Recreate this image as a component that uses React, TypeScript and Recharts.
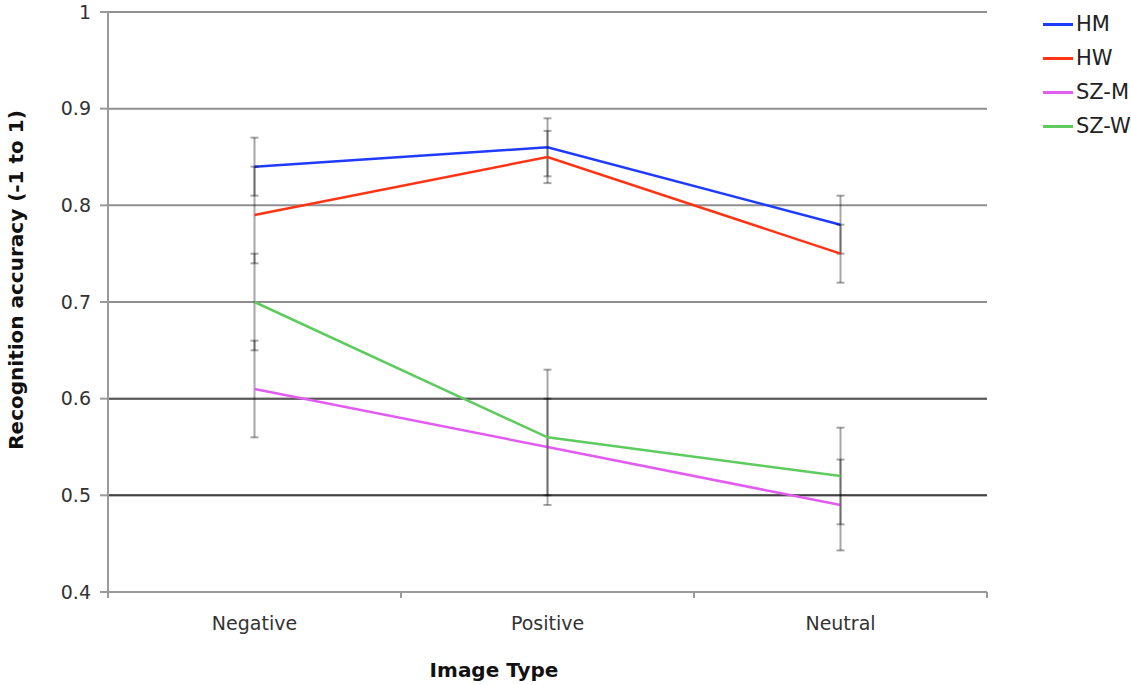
import React from 'react';
import { LineChart, Line, XAxis, YAxis, CartesianGrid, ErrorBar, ReferenceLine } from 'recharts';

const categories = ['Negative', 'Positive', 'Neutral'];
const hm = [0.84, 0.86, 0.78];
const hmErr = [0.03, 0.03, 0.03];
const hw = [0.79, 0.85, 0.75];
const hwErr = [0.05, 0.027, 0.03];
const szm = [0.61, 0.55, 0.49];
const szmErr = [0.05, 0.05, 0.047];
const szw = [0.7, 0.56, 0.52];
const szwErr = [0.05, 0.07, 0.05];
const yTicks = [0.4, 0.5, 0.6, 0.7, 0.8, 0.9, 1];
// category boundaries get tick marks, category centres get labels
const xTicks = [0, 0.5, 1, 1.5, 2, 2.5, 3];

const SERIES = [
  { key: 'hm', name: 'HM', color: '#1f3bff' },
  { key: 'hw', name: 'HW', color: '#ff3414' },
  { key: 'szm', name: 'SZ-M', color: '#e35cf2' },
  { key: 'szw', name: 'SZ-W', color: '#5ecb5e' },
];

const data = categories.map((name, i) => ({
  x: i + 0.5,
  name,
  hm: hm[i], hmErr: hmErr[i],
  hw: hw[i], hwErr: hwErr[i],
  szm: szm[i], szmErr: szmErr[i],
  szw: szw[i], szwErr: szwErr[i],
}));

const FONT = '"DejaVu Sans", Verdana, sans-serif';
const AXIS = '#9a9a9a';
const X_TICK_SIZE = 6;
const X_TICK_MARGIN = 19;

const titleStyle: React.CSSProperties = {
  position: 'absolute',
  fontFamily: FONT,
  fontSize: 20,
  fontWeight: 'bold',
  color: '#111',
  whiteSpace: 'nowrap',
  lineHeight: 1,
};

const XTick = (props: any) => {
  const { x, y, payload } = props;
  const v = payload.value as number;
  if (Number.isInteger(v)) {
    const top = y - X_TICK_SIZE - X_TICK_MARGIN;
    return <line x1={x} x2={x} y1={top} y2={top + X_TICK_SIZE} stroke={AXIS} strokeWidth={2} />;
  }
  return (
    <text x={x} y={y} dy="0.71em" textAnchor="middle" fill="#333" fontSize={19} fontFamily={FONT}>
      {categories[Math.floor(v)]}
    </text>
  );
};

export default function App() {
  return (
    <div style={{ position: 'absolute', left: 0, top: 0, width: 1131, height: 685, background: '#fff' }}>
      <LineChart width={1131} height={685} data={data} margin={{ top: 12, right: 144, bottom: 0, left: 0 }}>
        <CartesianGrid horizontal vertical={false} stroke="#8f8f8f" strokeWidth={2} />
        <ReferenceLine y={0.6} stroke="#5a5a5a" strokeWidth={2} />
        <ReferenceLine y={0.5} stroke="#444" strokeWidth={2} />
        <XAxis
          dataKey="x"
          type="number"
          domain={[0, 3]}
          ticks={xTicks}
          interval={0}
          tickLine={false}
          tickSize={X_TICK_SIZE}
          tickMargin={X_TICK_MARGIN}
          height={93}
          axisLine={{ stroke: AXIS, strokeWidth: 2 }}
          tick={<XTick />}
        />
        <YAxis
          domain={[0.4, 1]}
          ticks={yTicks}
          tickFormatter={(v: number) => (v === 1 ? '1' : v.toFixed(1))}
          width={108}
          tickSize={8}
          tickMargin={9}
          interval={0}
          axisLine={{ stroke: AXIS, strokeWidth: 2 }}
          tickLine={{ stroke: AXIS, strokeWidth: 2 }}
          tick={{ fill: '#333', fontSize: 19, fontFamily: FONT }}
        />
        {SERIES.map(s => (
          <Line
            key={s.key}
            type="linear"
            dataKey={s.key}
            name={s.name}
            stroke={s.color}
            strokeWidth={2.5}
            dot={false}
            activeDot={false}
            isAnimationActive={false}
          >
            <ErrorBar dataKey={`${s.key}Err`} width={4} stroke="#000" strokeOpacity={0.35} strokeWidth={2} isAnimationActive={false} />
          </Line>
        ))}
      </LineChart>

      <div style={{ ...titleStyle, left: 16, top: 280, transform: 'translate(-50%, -50%) rotate(-90deg)' }}>
        Recognition accuracy (-1 to 1)
      </div>
      <div style={{ ...titleStyle, left: 494, top: 670, transform: 'translate(-50%, -50%)' }}>
        Image Type
      </div>

      <div style={{ position: 'absolute', left: 1043, top: 7, fontFamily: FONT, fontSize: 21, color: '#222' }}>
        {SERIES.map(s => (
          <div key={s.key} style={{ display: 'flex', alignItems: 'center', height: 34 }}>
            <span style={{ display: 'inline-block', width: 30, height: 3, background: s.color, marginRight: 3 }} />
            <span>{s.name}</span>
          </div>
        ))}
      </div>
    </div>
  );
}
